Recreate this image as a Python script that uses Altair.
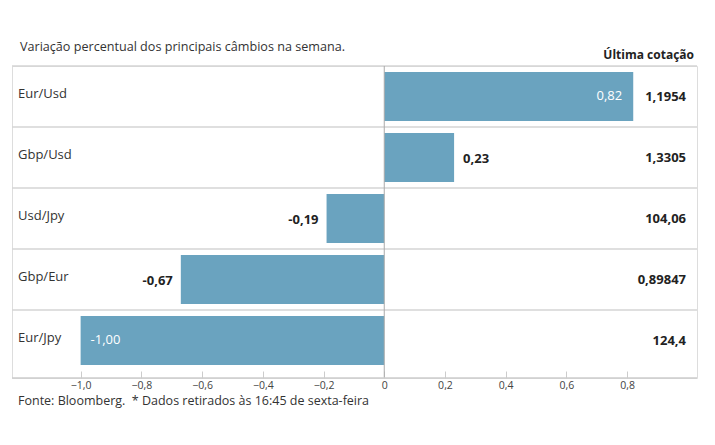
import altair as alt
import pandas as pd

# ---- data ----
categories = ["Eur/Usd", "Gbp/Usd", "Usd/Jpy", "Gbp/Eur", "Eur/Jpy"]
changes = [0.82, 0.23, -0.19, -0.67, -1.00]
last_quotes = ["1,1954", "1,3305", "104,06", "0,89847", "124,4"]
tick_values = [-1.0, -0.8, -0.6, -0.4, -0.2, 0.0, 0.2, 0.4, 0.6, 0.8]

title_text = "Variação percentual dos principais câmbios na semana."
quote_header = "Última cotação"
footer_text = "Fonte: Bloomberg.\u00a0\u00a0* Dados retirados às 16:45 de sexta-feira"

df = pd.DataFrame({"par": categories, "var": changes, "cot": last_quotes})
df["label"] = [f"{v:.2f}".replace(".", ",") for v in changes]
df["inside"] = [abs(v) >= 0.8 for v in changes]

W, H = 685, 312
FONT = "Open Sans"
BAR = "#6aa3bf"
DARK = "#222222"

x_scale = alt.Scale(domain=[-1.226, 1.03], nice=False, zero=False)
y_scale = alt.Scale(domain=categories, paddingInner=0, paddingOuter=0.0574, align=0)

base = alt.Chart(df)

sep = base.mark_rule(color="#d4d4d4", strokeWidth=1.5).encode(
    y=alt.Y("par:N", scale=y_scale, axis=None, bandPosition=0),
    x=alt.value(0), x2=alt.value(W),
)

bars = base.mark_bar(size=49, color=BAR).encode(
    y=alt.Y("par:N", scale=y_scale, axis=None),
    x=alt.X("var:Q", scale=x_scale,
            axis=alt.Axis(values=tick_values, title=None, domain=False, grid=False,
                          offset=-7, tickSize=7, tickColor="#cccccc", tickWidth=1,
                          labelFont=FONT, labelFontSize=10.5, labelColor="#444444",
                          labelPadding=2,
                          labelExpr="datum.value == 0 ? '0' : replace(format(datum.value, '.1f'), '.', ',')")),
    x2=alt.datum(0),
)

zero_line = alt.Chart(pd.DataFrame({"z": [0]})).mark_rule(color="#aaaaaa", strokeWidth=1).encode(
    x=alt.X("z:Q", scale=x_scale), y=alt.value(0), y2=alt.value(H),
)

axis_line = alt.Chart(pd.DataFrame({"z": [0]})).mark_rule(color="#cccccc", strokeWidth=1.5).encode(
    x=alt.value(0), x2=alt.value(W), y=alt.value(H),
)

cat_labels = base.mark_text(align="left", baseline="middle", dy=-2, font=FONT,
                            fontSize=13, color="#333333").encode(
    x=alt.value(6), y=alt.Y("par:N", scale=y_scale, axis=None), text="par:N",
)

quote_labels = base.mark_text(align="right", baseline="middle", dy=0.5, font=FONT, fontSize=13,
                              fontWeight="bold", color=DARK).encode(
    x=alt.value(674), y=alt.Y("par:N", scale=y_scale, axis=None), text="cot:N",
)

def val_layer(filt, align, dx, dy, color, weight):
    return base.transform_filter(filt).mark_text(
        align=align, baseline="middle", dx=dx, dy=dy, font=FONT, fontSize=13,
        fontWeight=weight, color=color,
    ).encode(
        x=alt.X("var:Q", scale=x_scale),
        y=alt.Y("par:N", scale=y_scale, axis=None),
        text="label:N",
    )

v_pos_out = val_layer("!datum.inside && datum.var >= 0", "left", 9, 2, DARK, "bold")
v_neg_out = val_layer("!datum.inside && datum.var < 0", "right", -8, 2, DARK, "bold")
v_pos_in = val_layer("datum.inside && datum.var >= 0", "right", -11, 0, "white", "normal")
v_neg_in = val_layer("datum.inside && datum.var < 0", "left", 10, 0, "white", "normal")

one = alt.Chart(pd.DataFrame({"a": [0]}))
title = one.mark_text(text=title_text, align="left", baseline="alphabetic", font=FONT,
                      fontSize=12.6, color="#333333").encode(x=alt.value(8), y=alt.value(-15))
header = one.mark_text(text=quote_header, align="right", baseline="alphabetic", font=FONT,
                       fontSize=12, fontWeight="bold", color=DARK).encode(x=alt.value(682), y=alt.value(-7))
footer = one.mark_text(text=footer_text, align="left", baseline="alphabetic", font=FONT,
                       fontSize=12.5, color="#333333").encode(x=alt.value(6), y=alt.value(339))

chart = alt.layer(
    sep, bars, zero_line, axis_line, cat_labels, quote_labels,
    v_pos_out, v_neg_out, v_pos_in, v_neg_in, title, header, footer,
).properties(
    width=W, height=H,
    autosize=alt.AutoSizeParams(type="none"),
    padding={"left": 4, "top": 58, "right": 10, "bottom": 59},
).configure_view(stroke=None).configure(background="white")

chart.save("out.html", embed_options={"renderer": "svg", "actions": False})
